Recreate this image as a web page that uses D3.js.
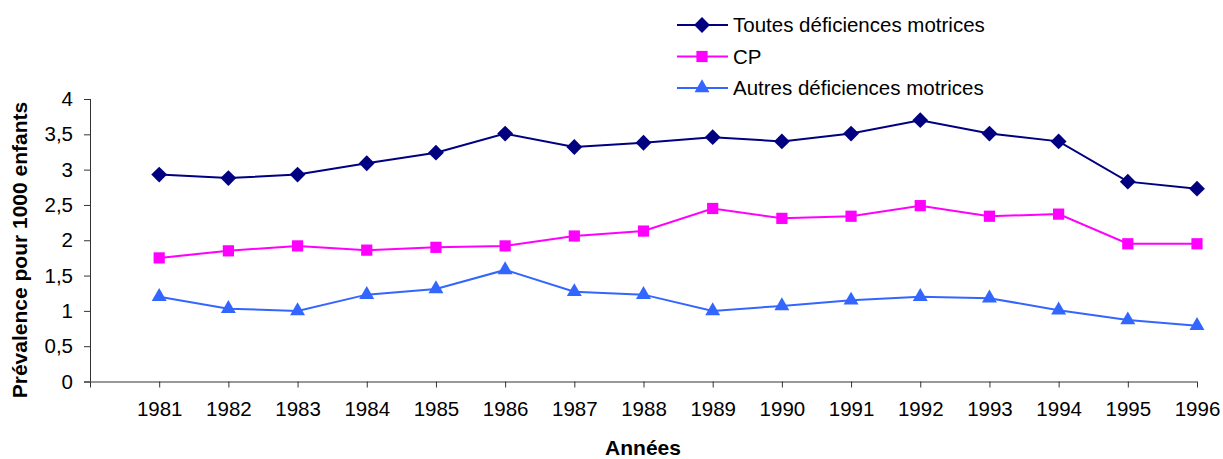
<!DOCTYPE html>
<html>
<head>
<meta charset="utf-8">
<script src="https://cdn.jsdelivr.net/npm/d3@7"></script>
<style>
  body { margin: 0; background: #fff; }
  text { font-family: "Liberation Sans", Arial, sans-serif; fill: #000; }
</style>
</head>
<body>
<div id="wrapper"></div>
<script>
// data
const years = [1981, 1982, 1983, 1984, 1985, 1986, 1987, 1988, 1989, 1990, 1991, 1992, 1993, 1994, 1995, 1996]
const toutes = [2.93, 2.88, 2.93, 3.09, 3.24, 3.51, 3.32, 3.38, 3.46, 3.40, 3.51, 3.70, 3.51, 3.40, 2.83, 2.73]
const cp = [1.75, 1.85, 1.92, 1.86, 1.90, 1.92, 2.06, 2.13, 2.45, 2.31, 2.34, 2.49, 2.34, 2.37, 1.95, 1.95]
const autres = [1.20, 1.03, 1.00, 1.23, 1.31, 1.58, 1.27, 1.23, 1.00, 1.07, 1.15, 1.20, 1.18, 1.01, 0.87, 0.79]
const yTicks = [0, 0.5, 1, 1.5, 2, 2.5, 3, 3.5, 4]

const series = [
  { name: "Toutes déficiences motrices", values: toutes, color: "#000080", symbol: d3.symbolDiamond2 },
  { name: "CP", values: cp, color: "#FF00FF", symbol: d3.symbolSquare2 },
  { name: "Autres déficiences motrices", values: autres, color: "#3366FF", symbol: d3.symbolTriangle2 }
]

const width = 1223
const height = 459

const svg = d3.select("#wrapper")
  .append("svg")
  .attr("width", width)
  .attr("height", height)

// scales (first slot before 1981 is left empty, like the original)
const xScale = d3.scaleLinear()
  .domain([1980, 1996])
  .range([90, 1197])

const yScale = d3.scaleLinear()
  .domain([0, 4])
  .range([381.5, 99])

// axes
const xAxis = svg.append("g")
  .attr("transform", `translate(0, ${yScale(0)})`)
  .call(d3.axisBottom(xScale)
    .tickValues([1980].concat(years))
    .tickFormat(d => d === 1980 ? "" : d)
    .tickSize(6)
    .tickPadding(14))
xAxis.select(".domain").attr("d", `M84,0.5H1197`).attr("stroke", "#333")
xAxis.selectAll(".tick line").attr("stroke", "#333")
xAxis.selectAll(".tick text")
  .style("font-size", "20.5px")
  .style("font-family", "Liberation Sans, Arial, sans-serif")

const yAxis = svg.append("g")
  .attr("transform", `translate(90, 0)`)
  .call(d3.axisLeft(yScale)
    .tickValues(yTicks)
    .tickFormat(d => String(d).replace(".", ","))
    .tickSize(6)
    .tickPadding(11))
yAxis.select(".domain").attr("d", `M0.5,${yScale(4)}V${yScale(0)}`).attr("stroke", "#333")
yAxis.selectAll(".tick line").attr("stroke", "#333")
yAxis.selectAll(".tick text")
  .style("font-size", "20.5px")
  .style("font-family", "Liberation Sans, Arial, sans-serif")

// axis titles
svg.append("text")
  .attr("x", 643)
  .attr("y", 455)
  .attr("text-anchor", "middle")
  .style("font-size", "21px")
  .style("font-weight", "bold")
  .text("Années")

svg.append("text")
  .attr("transform", "translate(27, 250) rotate(-90)")
  .attr("text-anchor", "middle")
  .style("font-size", "21px")
  .style("font-weight", "bold")
  .text("Prévalence pour 1000 enfants")

// lines + markers
const lineGen = d3.line()
  .x((d, i) => xScale(years[i]))
  .y(d => yScale(d))

series.forEach(s => {
  svg.append("path")
    .attr("d", lineGen(s.values))
    .attr("fill", "none")
    .attr("stroke", s.color)
    .attr("stroke-width", 2)

  svg.selectAll(null)
    .data(s.values)
    .join("path")
    .attr("transform", (d, i) => `translate(${xScale(years[i])}, ${yScale(d)})`)
    .attr("d", d3.symbol().type(s.symbol).size(160))
    .attr("fill", s.color)
})

// legend
const legend = svg.append("g")
series.forEach((s, i) => {
  const y = 25 + i * 31.5
  legend.append("line")
    .attr("x1", 677).attr("x2", 728)
    .attr("y1", y).attr("y2", y)
    .attr("stroke", s.color)
    .attr("stroke-width", 2)
  legend.append("path")
    .attr("transform", `translate(702, ${y})`)
    .attr("d", d3.symbol().type(s.symbol).size(160))
    .attr("fill", s.color)
  legend.append("text")
    .attr("x", 733)
    .attr("y", y + 7)
    .style("font-size", "20.5px")
    .text(s.name)
})
</script>
</body>
</html>
